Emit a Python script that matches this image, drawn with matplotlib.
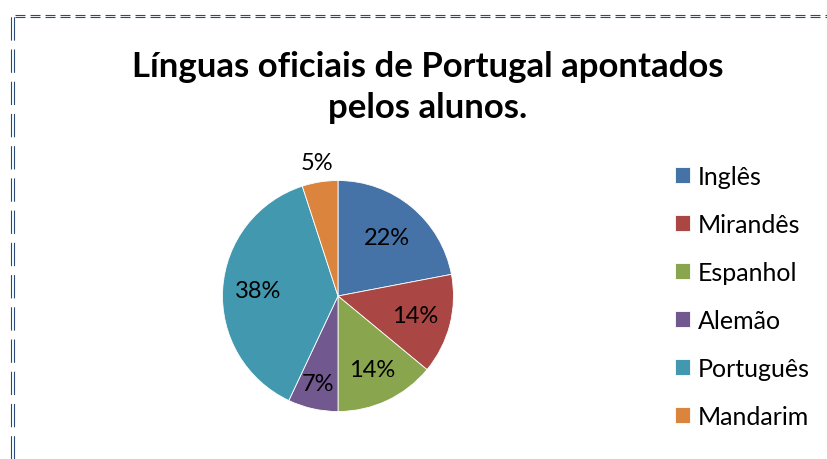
import matplotlib.pyplot as plt
import numpy as np
from matplotlib.lines import Line2D

plt.rcParams['font.family'] = ['Lato', 'DejaVu Sans']

# data
linguas = ['Inglês', 'Mirandês', 'Espanhol', 'Alemão', 'Português', 'Mandarim']
percentagens = [22, 14, 14, 7, 38, 5]
cores = ['#4572A7', '#AA4643', '#89A54E', '#71588F', '#4198AF', '#DB843D']
titulo = 'Línguas oficiais de Portugal apontados\npelos alunos.'

W, H = 828, 460
fig = plt.figure(figsize=(W / 100, H / 100), dpi=100)

# pie axes placed in pixels (centre ~ (338, 297), radius ~115)
cx, cy, r = 338, 297, 115.5
ax = fig.add_axes([(cx - r) / W, (H - cy - r) / H, 2 * r / W, 2 * r / H])
wedges, _ = ax.pie(percentagens, colors=cores, startangle=90, counterclock=False,
                   wedgeprops=dict(edgecolor='white', linewidth=0.6))
ax.set_xlim(-1, 1)
ax.set_ylim(-1, 1)
ax.set_aspect('equal')

# labels: mostly inside, the small slice outside
dist = [0.66, 0.69, 0.70, 0.78, 0.69, 1.17]
for w, p, d in zip(wedges, percentagens, dist):
    ang = np.deg2rad((w.theta1 + w.theta2) / 2)
    ax.text(d * np.cos(ang), d * np.sin(ang), f'{p}%', ha='center', va='center',
            fontsize=17, color='black', clip_on=False)

fig.text(428 / W, 1 - 87.5 / H, titulo, ha='center', va='center', fontsize=25,
         fontweight='bold', linespacing=1.34)

leg = fig.legend(wedges, linguas, loc='upper left', bbox_to_anchor=(675 / W, 1 - 166 / H),
                 frameon=False, fontsize=18, handlelength=0.6, handleheight=0.6,
                 handletextpad=0.3, labelspacing=1.0, borderpad=0, borderaxespad=0)

# dashed double border (top and left)
navy = '#2A4A7A'
for yy in (16.2, 18.4):
    fig.add_artist(Line2D([15 / W, 1], [1 - yy / H, 1 - yy / H], transform=fig.transFigure,
                          color=navy, lw=0.8, linestyle=(0, (9, 4.5))))
for xx in (11.5, 14.3):
    fig.add_artist(Line2D([xx / W, xx / W], [0, 1 - 17 / H], transform=fig.transFigure,
                          color=navy, lw=0.8, linestyle=(0, (21, 8))))

fig.savefig('out.png', dpi=100)
